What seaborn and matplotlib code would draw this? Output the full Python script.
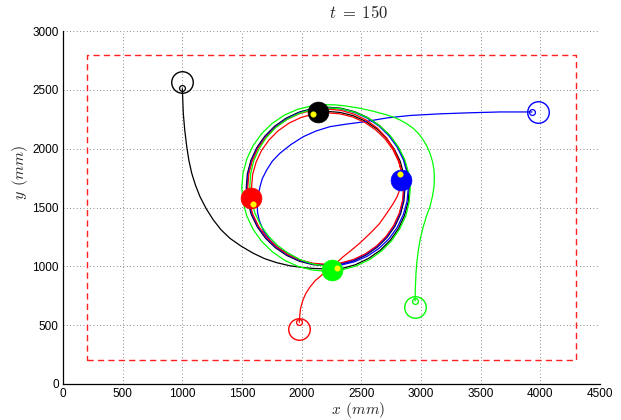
import matplotlib
matplotlib.use("Agg")
import matplotlib.pyplot as plt
import seaborn as sns
import pandas as pd

# ---------------- data (mm) ----------------
arena_x = [200, 4300, 4300, 200, 200]
arena_y = [200, 200, 2800, 2800, 200]

black_x = [1000, 1008, 1020, 1037, 1055, 1079, 1110, 1148, 1200, 1260, 1325, 1399, 1495, 1595, 1690,
           1791, 1900, 2014, 2100, 2181, 2260,
           2332, 2449, 2559, 2658, 2743, 2812, 2862, 2893, 2902, 2891, 2859, 2807, 2737, 2652, 2553,
           2444, 2329, 2210, 2091, 1977, 1870, 1773, 1691, 1624, 1575, 1545, 1536, 1547, 1578, 1629,
           1697, 1780, 1876, 1982, 2094, 2210, 2326, 2437, 2541, 2635, 2716, 2781, 2829, 2857, 2866,
           2855, 2825, 2776, 2709, 2629, 2535, 2432, 2323, 2210, 2140]
black_y = [2510, 2301, 2160, 2017, 1900, 1790, 1690, 1592, 1490, 1394, 1310, 1238, 1170, 1111, 1065,
           1031, 1005, 989, 982, 979, 977,
           980, 1013, 1066, 1136, 1222, 1322, 1433, 1549, 1670, 1790, 1906, 2015, 2112, 2196, 2264,
           2314, 2344, 2353, 2342, 2310, 2259, 2190, 2106, 2009, 1901, 1787, 1670, 1553, 1440, 1334,
           1239, 1158, 1092, 1043, 1014, 1005, 1016, 1047, 1097, 1164, 1246, 1340, 1445, 1556, 1670,
           1784, 1894, 1997, 2089, 2169, 2233, 2280, 2308, 2317, 2312]

blue_x = [3930, 3662, 3411, 3159, 2908, 2720, 2514, 2370, 2237, 2120, 2014, 1910, 1818, 1755, 1707,
          1670, 1651, 1635, 1628, 1630, 1645, 1680, 1735, 1800, 1887, 1986,
          2095, 2210, 2327, 2440, 2548, 2646, 2731, 2800, 2851, 2883, 2894, 2884, 2853, 2801, 2732,
          2648, 2550, 2442, 2328, 2210, 2092, 1979, 1873, 1777, 1695, 1629, 1580, 1551, 1542, 1553,
          1584, 1634, 1701, 1784, 1879, 1984, 2095, 2210, 2324, 2435, 2538, 2631, 2711, 2776, 2823,
          2851, 2860, 2845]
blue_y = [2312, 2312, 2305, 2296, 2282, 2262, 2227, 2208, 2187, 2150, 2102, 2035, 1961, 1895, 1819,
          1745, 1677, 1600, 1536, 1460, 1390, 1300, 1224, 1160, 1111, 1054,
          1020, 1005, 1010, 1038, 1085, 1151, 1233, 1329, 1437, 1551, 1670, 1789, 1904, 2012, 2109,
          2192, 2259, 2308, 2338, 2347, 2336, 2305, 2254, 2186, 2102, 2006, 1899, 1786, 1670, 1554,
          1442, 1337, 1243, 1162, 1097, 1049, 1020, 1011, 1022, 1052, 1102, 1168, 1249, 1343, 1447,
          1557, 1670, 1730]

red_x = [1980, 1983, 1990, 2011, 2035, 2070, 2115, 2170, 2254, 2346, 2420, 2489, 2573, 2650, 2715,
         2765, 2799, 2825, 2841, 2835,
         2816, 2773, 2712, 2634, 2541, 2437, 2326, 2210, 2094, 1982, 1876, 1781, 1700, 1634, 1586,
         1557, 1548, 1559, 1590, 1639, 1706, 1788, 1882, 1986, 2096, 2210, 2323, 2433, 2535, 2627,
         2706, 2770, 2817, 2845, 2854, 2843, 2813, 2765, 2700, 2621, 2529, 2428, 2321, 2210, 2100,
         1994, 1894, 1804, 1727, 1664, 1618, 1589, 1580, 1580]
red_y = [524, 570, 640, 714, 770, 825, 880, 927, 995, 1080, 1140, 1199, 1280, 1360, 1454,
         1530, 1590, 1660, 1734, 1810,
         1891, 1995, 2091, 2175, 2243, 2294, 2326, 2337, 2328, 2298, 2248, 2181, 2098, 2003, 1897,
         1785, 1670, 1555, 1444, 1340, 1247, 1167, 1102, 1054, 1026, 1017, 1028, 1058, 1107, 1173,
         1253, 1346, 1449, 1558, 1670, 1782, 1890, 1991, 2082, 2159, 2223, 2269, 2296, 2305, 2294,
         2265, 2217, 2153, 2075, 1985, 1885, 1780, 1670, 1595]

green_x = [2950, 2952, 2958, 2966, 2978, 2995, 3019, 3045, 3075, 3095, 3109, 3112, 3109, 3096, 3075,
           3050, 3019, 2980, 2935, 2880, 2824, 2770, 2713, 2600, 2480, 2360, 2280,
           2210, 2088, 1968, 1855, 1753, 1665, 1593, 1541, 1509, 1498, 1509, 1541, 1593, 1665, 1753,
           1854, 1966, 2086, 2210, 2334, 2453, 2565, 2666, 2752, 2821, 2873, 2901, 2910, 2897, 2863,
           2809, 2739, 2652, 2553, 2443, 2328, 2210, 2093, 1981, 1876, 1783, 1704, 1642, 1597, 1572,
           1565, 1578, 1609, 1656, 1720, 1797, 1887, 1987, 2095, 2210, 2250]
green_y = [705, 800, 941, 1040, 1139, 1240, 1337, 1425, 1507, 1590, 1677, 1750, 1819, 1893, 1961,
           2020, 2074, 2127, 2173, 2212, 2244, 2268, 2287, 2318, 2345, 2364, 2372,
           2374, 2364, 2335, 2285, 2215, 2128, 2026, 1914, 1794, 1670, 1546, 1426, 1314, 1212, 1125,
           1053, 1001, 969, 958, 969, 1002, 1055, 1127, 1215, 1317, 1429, 1548, 1670, 1791, 1908,
           2016, 2114, 2196, 2263, 2311, 2340, 2347, 2335, 2301, 2248, 2179, 2094, 1998, 1893, 1783,
           1670, 1558, 1451, 1350, 1259, 1178, 1111, 1057, 1020, 1000, 975]

robots = ["black", "blue", "red", "green"]
colors = {"black": "#000000", "blue": "#0000ff", "red": "#ff0000", "green": "#00ff00"}
paths = {"black": (black_x, black_y), "blue": (blue_x, blue_y),
         "red": (red_x, red_y), "green": (green_x, green_y)}

# start body centre and front point
start_body_x = [997, 3983, 1980, 2950]
start_body_y = [2565, 2312, 467, 652]
start_front_x = [997, 3930, 1980, 2950]
start_front_y = [2516, 2312, 524, 705]

# final body centre and heading point
final_x = [2140, 2832, 1578, 2250]
final_y = [2312, 1734, 1581, 970]
head_x = [2096, 2824, 1592, 2296]
head_y = [2295, 1785, 1530, 986]

xticks = [0, 500, 1000, 1500, 2000, 2500, 3000, 3500, 4000, 4500]
yticks = [0, 500, 1000, 1500, 2000, 2500, 3000]

# ---------------- plot ----------------
sns.set_theme(style="white")
plt.rcParams["font.family"] = ["Liberation Sans", "DejaVu Sans"]
plt.rcParams["mathtext.fontset"] = "cm"

fig = plt.figure(figsize=(6.21, 4.20), dpi=100)
ax = fig.add_axes([63 / 621, 36 / 420, 537 / 621, 353 / 420])

ax.set_xlim(0, 4500)
ax.set_ylim(0, 3000)
ax.set_xticks(xticks)
ax.set_yticks(yticks)
ax.set_xticklabels([str(t) for t in xticks], fontsize=8.5)
ax.set_yticklabels([str(t) for t in yticks], fontsize=8.5)
ax.tick_params(direction="in", length=4, width=0.8, colors="black", pad=3)
for s in ["top", "right"]:
    ax.spines[s].set_visible(False)
for s in ["left", "bottom"]:
    ax.spines[s].set_color("black")
    ax.spines[s].set_linewidth(0.9)
ax.grid(True, color="#666666", linestyle=(0, (1, 3)), linewidth=0.6)
ax.set_axisbelow(True)

# arena
ax.plot(arena_x, arena_y, color="#ff2020", lw=1.0, dashes=(4.5, 3), zorder=2)

# trajectories
for r in robots:
    px, py = paths[r]
    df = pd.DataFrame({"x": px, "y": py})
    sns.lineplot(data=df, x="x", y="y", sort=False, estimator=None, color=colors[r],
                 lw=0.9, ax=ax, zorder=3)

for i, r in enumerate(robots):
    c = colors[r]
    ax.plot(start_body_x[i], start_body_y[i], "o", ms=15.5, mfc="none", mec=c, mew=1.0, zorder=4)
    ax.plot(start_front_x[i], start_front_y[i], "o", ms=4.2, mfc="none", mec=c, mew=0.9, zorder=4)
    ax.plot(final_x[i], final_y[i], "o", ms=15, mfc=c, mec=c, mew=0.5, zorder=5)
    ax.plot(head_x[i], head_y[i], "o", ms=4, mfc="#ffff00", mec="#ffff00", mew=0.3, zorder=6)

ax.set_xlabel("")
ax.set_ylabel("")
ax.text(0.549, -0.075, r"$x\;\,(mm)$", transform=ax.transAxes, ha="center", va="center",
        fontsize=11)
ax.text(-0.080, 0.60, r"$y\;\,(mm)$", transform=ax.transAxes, ha="center", va="center",
        rotation=90, fontsize=11.5)
ax.text(0.551, 1.051, r"$t\;=\;150$", transform=ax.transAxes, ha="center", va="center",
        fontsize=12)

fig.savefig("out.png", dpi=100)
